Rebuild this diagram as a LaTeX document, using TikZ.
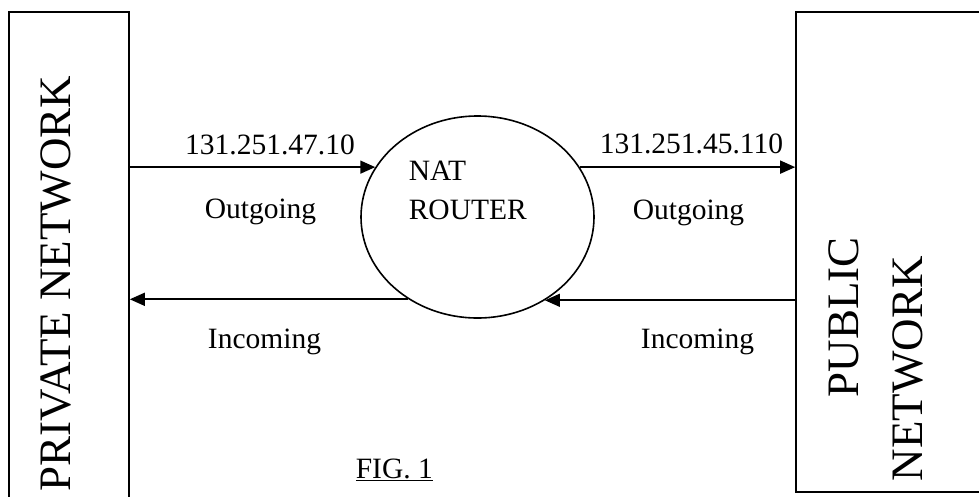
\documentclass[tikz,border=0pt]{standalone}
\usepackage{fontspec}
\setmainfont{Liberation Serif}
\usetikzlibrary{shapes.geometric,arrows.meta}
\begin{document}
\begin{tikzpicture}[x=1pt,y=-1pt, line width=1.6pt,
  lbl/.style={font=\fontsize{29.5}{34}\selectfont, inner sep=0pt, anchor=base},
  big/.style={font=\fontsize{45}{54}\selectfont, inner sep=0pt, rotate=90, anchor=base west},
  arr/.style={-{Triangle[length=15pt,width=13pt]}},
  boxnode/.style={draw, inner sep=0pt}]
\useasboundingbox (0,0) rectangle (979,496);
\clip (0,0) rectangle (979,496);
\node[boxnode, minimum width=120pt, minimum height=500pt] (L) at (69,262) {};
\node[boxnode, minimum width=204pt, minimum height=480pt] (R) at (898,252) {};
\node[boxnode, ellipse, minimum width=233pt, minimum height=202pt] (E) at (477.5,217) {};
\draw[arr] (E.154.3 -| L.east) -- (E.154.3);
\draw[arr] (E.26.9) -- (E.26.9 -| R.west);
\draw[arr] (E.230.3) -- (E.230.3 -| L.east);
\draw[arr] (E.309.7 -| R.west) -- (E.309.7);
\node[lbl] (ip1) at (270,154) {131.251.47.10};
\node[lbl] (out1) at (260.5,218) {Outgoing};
\node[lbl] (in1) at (264.5,348) {Incoming};
\node[lbl] (ip2) at (691.5,153) {131.251.45.110};
\node[lbl] (out2) at (688.5,219) {Outgoing};
\node[lbl] (in2) at (697.5,348) {Incoming};
\node[lbl, anchor=base west] (nat) at (408,180) {NAT};
\node[lbl, anchor=base west] (router) at (408,219) {ROUTER};
\node[big] (priv) at (70,492) {PRIVATE NETWORK};
\node[big] (pub1) at (858,398) {PUBLIC};
\node[big] (pub2) at (922,482) {NETWORK};
\node[lbl, anchor=base west] (fig) at (355,478) {\setlength{\fboxsep}{0pt}\underline{FIG. 1}};
\end{tikzpicture}
\end{document}
